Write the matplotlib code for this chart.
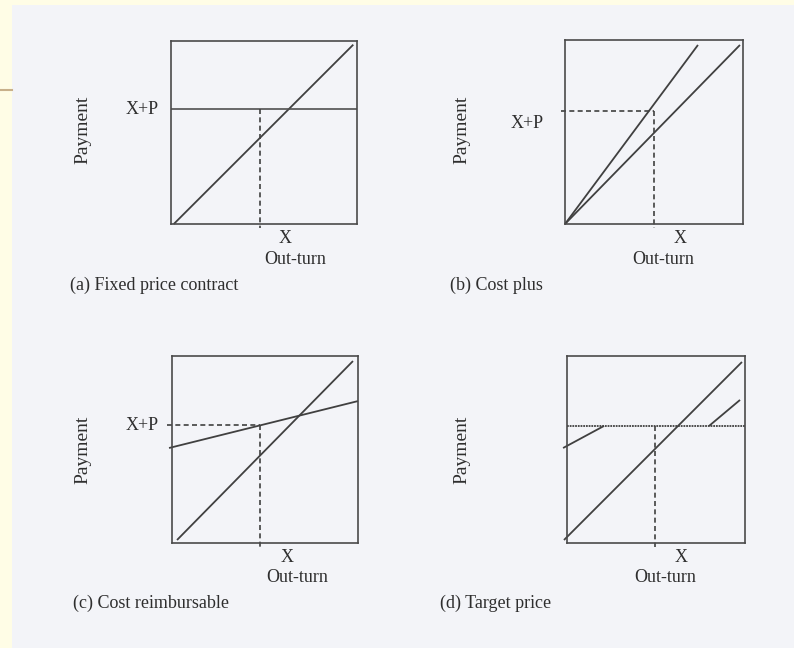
import matplotlib
matplotlib.use('Agg')
import matplotlib.pyplot as plt
from matplotlib.patches import Rectangle

# figure size in pixels (dpi 100)
W, H = 794, 648

# ---- values, in box units (0..10 on both axes) ----
captions = ['(a) Fixed price contract', '(b) Cost plus',
            '(c) Cost reimbursable', '(d) Target price']
x_label = 'X'
xp_label = 'X+P'
y_title = 'Payment'
x_title = 'Out-turn'

# (a) fixed price: cost line and flat payment
a_cost_x = [0.15, 9.8]
a_cost_y = [0.0, 9.8]
a_fixed = 6.3
a_mark = 4.8

# (b) cost plus: two rays from the origin
b_steep_x = [0.0, 7.47]
b_steep_y = [0.0, 9.73]
b_shallow_x = [0.0, 9.83]
b_shallow_y = [0.0, 9.73]
b_mark = 5.0
b_xp = 6.14

# (c) cost reimbursable
c_cost_x = [0.27, 9.73]
c_cost_y = [0.16, 9.73]
c_pay_x = [-0.16, 10.0]
c_pay_y = [5.08, 7.59]
c_mark = 4.73
c_xp = 6.31

# (d) target price
d_cost_x = [-0.17, 9.83]
d_cost_y = [0.16, 9.68]
d_target = 6.26
d_low_x = [-0.22, 2.08]
d_low_y = [5.08, 6.26]
d_high_x = [7.98, 9.72]
d_high_y = [6.26, 7.65]
d_mark = 4.94

# ---- layout (pixels) ----
boxes = [(171, 41, 357, 224), (565, 40, 743, 224),
         (172, 356, 358, 543), (567, 356, 745, 543)]
ylab_pos = [(83, 130), (462, 130), (83, 450), (462, 450)]
xp_pos = [(142, 109), (527, 123), (142, 426), None]
x_pos = [(285, 238), (680, 238), (287, 557), (681, 557)]
xt_pos = [(295, 260), (663, 260), (297, 578), (665, 578)]
cap_pos = [(70, 285), (450, 285), (73, 603), (440, 603)]

LINE = '#404040'
TEXT = '#2e2e2e'
FONT = 'Liberation Serif'
FS = 13

fig = plt.figure(figsize=(W / 100, H / 100), dpi=100, facecolor='#fffde6')
fig.patches.append(Rectangle((12 / W, 0), 1 - 12 / W, 1 - 5 / H,
                             transform=fig.transFigure, facecolor='#f3f4f8',
                             edgecolor='none', zorder=-10))
fig.add_artist(plt.Line2D([0, 12 / W], [1 - 90 / H, 1 - 90 / H],
                          transform=fig.transFigure, color='#c8b08a', lw=1.5))


def px(x, y):
    return x / W, 1 - y / H


def make_ax(box):
    l, t, r, b = box
    ax = fig.add_axes([l / W, 1 - b / H, (r - l) / W, (b - t) / H])
    ax.set_xlim(0, 10)
    ax.set_ylim(0, 10)
    ax.patch.set_visible(False)
    ax.set_xticks([])
    ax.set_yticks([])
    for s in ax.spines.values():
        s.set_color('#4a4a4a')
        s.set_linewidth(1.2)
    return ax


def solid(ax, x, y):
    ax.plot(x, y, color=LINE, lw=1.3, clip_on=False, solid_capstyle='butt')


def dashed(ax, x, y):
    ax.plot(x, y, color=LINE, lw=1.2, dashes=(3.0, 2.0), clip_on=False)


axes = [make_ax(b) for b in boxes]

ax = axes[0]
solid(ax, a_cost_x, a_cost_y)
ax.axhline(a_fixed, color='#505050', lw=1.2)
dashed(ax, [a_mark, a_mark], [a_fixed, -0.2])

ax = axes[1]
solid(ax, b_steep_x, b_steep_y)
solid(ax, b_shallow_x, b_shallow_y)
dashed(ax, [-0.2, b_mark], [b_xp, b_xp])
dashed(ax, [b_mark, b_mark], [b_xp, -0.2])

ax = axes[2]
solid(ax, c_cost_x, c_cost_y)
solid(ax, c_pay_x, c_pay_y)
dashed(ax, [-0.27, c_mark], [c_xp, c_xp])
dashed(ax, [c_mark, c_mark], [c_xp, -0.2])

ax = axes[3]
solid(ax, d_cost_x, d_cost_y)
ax.axhline(d_target, color='#404040', lw=1.3, ls=(0, (1.0, 0.5)))
solid(ax, d_low_x, d_low_y)
solid(ax, d_high_x, d_high_y)
dashed(ax, [d_mark, d_mark], [d_target, -0.2])

kw = dict(family=FONT, fontsize=FS, color=TEXT)
for i in range(4):
    fig.text(*px(*ylab_pos[i]), y_title, rotation=90, ha='center', va='center',
             **dict(kw, fontsize=FS + 1))
    if xp_pos[i] is not None:
        fig.text(*px(*xp_pos[i]), xp_label, ha='center', va='center', **kw)
    fig.text(*px(*x_pos[i]), x_label, ha='center', va='center', **kw)
    fig.text(*px(*xt_pos[i]), x_title, ha='center', va='center', **kw)
    fig.text(*px(*cap_pos[i]), captions[i], ha='left', va='center', **kw)

fig.savefig('out.png', dpi=100, facecolor=fig.get_facecolor())
